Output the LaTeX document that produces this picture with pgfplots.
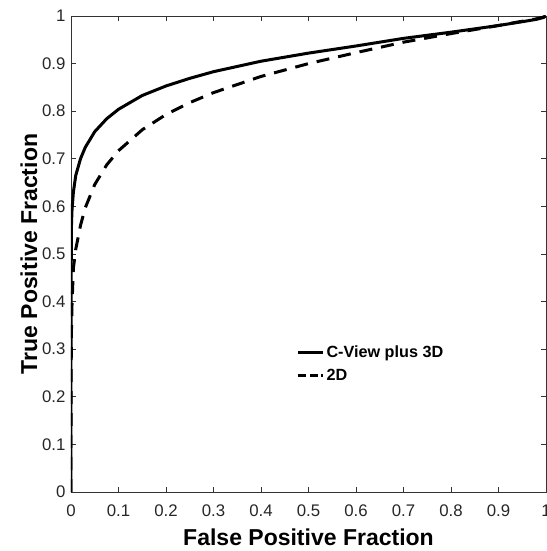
\documentclass[border=0pt]{standalone}
\usepackage{pgfplots}
\pgfplotsset{compat=1.18}
\usepackage{fontspec}
\setmainfont{Liberation Sans}

\begin{document}
\begin{tikzpicture}
\begin{axis}[
    name=roc,
    scale only axis,
    width=475pt, height=476pt,
    xmin=0, xmax=1, ymin=0, ymax=1,
    xtick={0,0.1,...,1.01}, ytick={0,0.1,...,1.01},
    xticklabels={0,0.1,0.2,0.3,0.4,0.5,0.6,0.7,0.8,0.9,1},
    yticklabels={0,0.1,0.2,0.3,0.4,0.5,0.6,0.7,0.8,0.9,1},
    tick align=inside,
    major tick length=5pt,
    axis line style={black!80, line width=0.8pt},
    every tick/.style={black!80, line width=0.8pt},
    /pgf/number format/assume math mode=true,
    xticklabel style={font=\fontsize{16.8}{18}\selectfont, text=black!85, yshift=-9pt},
    yticklabel style={font=\fontsize{16.8}{18}\selectfont, text=black!85, xshift=-2pt},
    xlabel={\textbf{False Positive Fraction}},
    ylabel={\textbf{True Positive Fraction}},
    label style={font=\fontsize{23}{26}\selectfont},
    xlabel style={yshift=-6pt},
    ylabel style={yshift=-2pt},
    legend style={draw=none, fill=none, at={(0.468,0.316)}, anchor=north west,
        font=\fontsize{16.2}{18}\selectfont\bfseries, row sep=6pt,
        /tikz/every even column/.append style={column sep=2pt}},
    legend cell align=left,
    legend image code/.code={\draw[#1] (0pt,0pt) -- (25pt,0pt);},
]
\addplot[black, line width=3pt] coordinates {
    (0,0) (0,0.30) (0.00001,0.33) (0.0001,0.42) (0.001,0.56) (0.002,0.59)
    (0.005,0.63) (0.01,0.665) (0.02,0.70) (0.03,0.724) (0.05,0.757)
    (0.075,0.784) (0.1,0.804) (0.15,0.833) (0.2,0.853) (0.25,0.869)
    (0.3,0.883) (0.4,0.905) (0.5,0.922) (0.6,0.937) (0.7,0.953)
    (0.8,0.966) (0.9,0.980) (0.95,0.988) (0.98,0.993) (0.995,0.997) (1,1)
};
\addlegendentry{C-View plus 3D}
\addplot[black, line width=3pt, dash pattern=on 13pt off 9pt,
    legend image post style={dash pattern=on 8pt off 3.5pt}] coordinates {
    (0,0) (0,0.12) (0.00001,0.15) (0.0001,0.23) (0.001,0.34) (0.002,0.39)
    (0.005,0.47) (0.01,0.51) (0.02,0.56) (0.03,0.597) (0.05,0.646)
    (0.075,0.687) (0.1,0.717) (0.15,0.761) (0.2,0.793) (0.25,0.818)
    (0.3,0.839) (0.4,0.873) (0.5,0.900) (0.6,0.923) (0.7,0.945)
    (0.8,0.963) (0.9,0.980) (0.95,0.989) (0.98,0.994) (0.995,0.998) (1,1)
};
\addlegendentry{2D}
\end{axis}
\pgfresetboundingbox
\path ([xshift=-71pt,yshift=-59pt]roc.south west) rectangle ([yshift=16pt]roc.north east);
\end{tikzpicture}
\end{document}
